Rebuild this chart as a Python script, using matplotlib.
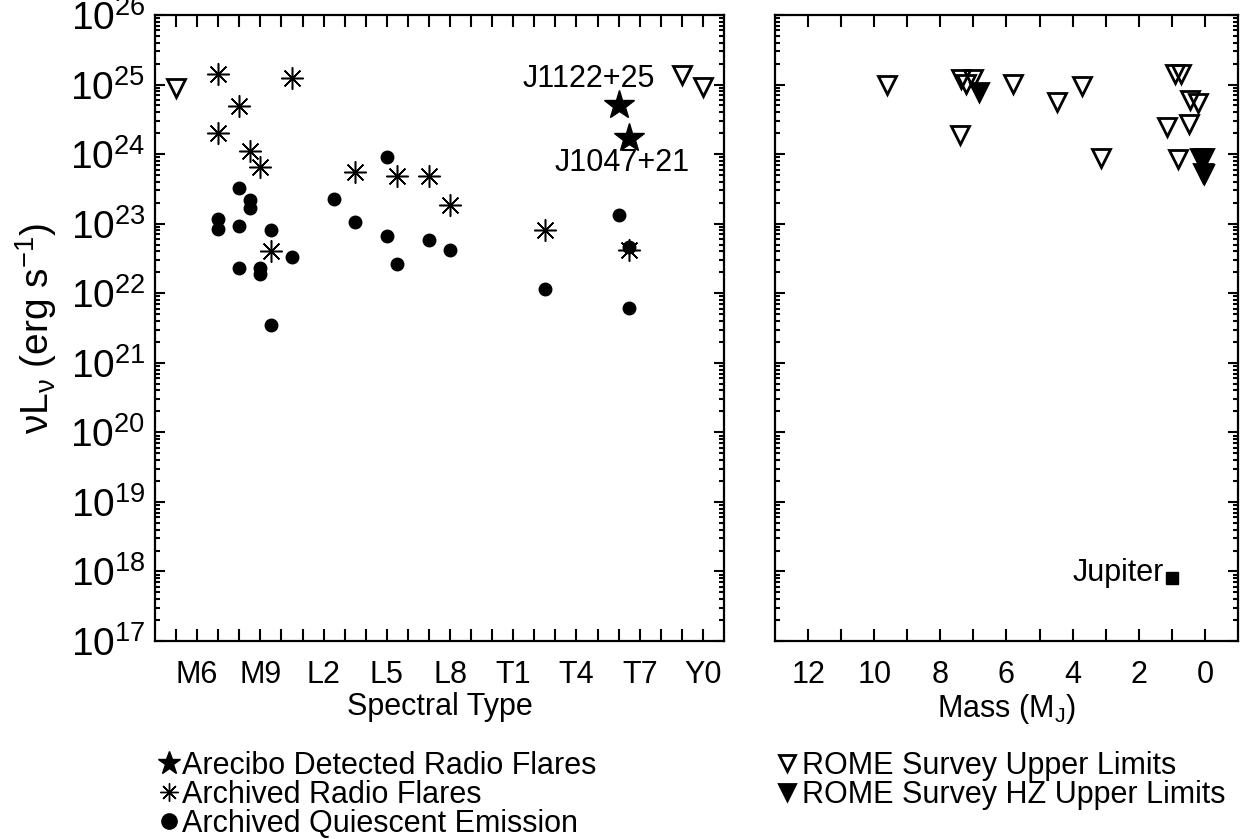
import matplotlib
matplotlib.use('Agg')
import matplotlib.pyplot as plt
from matplotlib.lines import Line2D
from matplotlib.ticker import LogLocator, NullFormatter, FixedLocator

plt.rcParams['font.family'] = ['Liberation Sans', 'DejaVu Sans']
plt.rcParams['mathtext.fontset'] = 'custom'
plt.rcParams['mathtext.rm'] = 'Liberation Sans'
plt.rcParams['mathtext.it'] = 'Liberation Sans'
plt.rcParams['mathtext.bf'] = 'Liberation Sans:bold'

# ---------------- data ----------------
# spectral type code: M0=0 ... L0=10, T0=20, Y0=30
spt_tick_pos = [6, 9, 12, 15, 18, 21, 24, 27, 30]
spt_tick_labels = ['M6', 'M9', 'L2', 'L5', 'L8', 'T1', 'T4', 'T7', 'Y0']

arecibo_spt = [26.0, 26.5]
arecibo_lum = [5.1e24, 1.7e24]
arecibo_names = ['J1122+25', 'J1047+21']

flare_spt = [7, 10.5, 8, 7, 8.5, 9, 9.5, 13.5, 15.5, 17, 18, 22.5, 26.5]
flare_lum = [1.41e25, 1.26e25, 4.9e24, 2.04e24, 1.12e24, 6.5e23, 4.0e22,
             5.6e23, 4.8e23, 4.9e23, 1.86e23, 8.1e22, 4.2e22]

quies_spt = [8, 8.5, 8.5, 7, 7, 8, 9.5, 10.5, 8, 9, 9, 9.5, 12.5, 13.5,
             15, 15, 15.5, 17, 18, 22.5, 26, 26.5, 26.5]
quies_lum = [3.3e23, 2.2e23, 1.7e23, 1.17e23, 8.5e22, 9.3e22, 8.1e22,
             3.3e22, 2.3e22, 2.3e22, 1.86e22, 3.5e21, 2.24e23, 1.05e23,
             9.1e23, 6.6e22, 2.6e22, 5.9e22, 4.2e22, 1.15e22, 1.35e23,
             4.6e22, 6.2e21]

rome_spt = [5, 29, 30]
rome_spt_lum = [8.9e24, 1.38e25, 9.3e24]

mass_ticks = [12, 10, 8, 6, 4, 2, 0]
rome_mass = [9.61, 7.37, 7.02, 7.22, 5.81, 4.48, 3.72, 7.42, 3.13, 0.91,
             0.71, 0.46, 0.20, 1.14, 0.48, 0.81, 0.03]
rome_mass_lum = [9.8e24, 1.2e25, 1.2e25, 1.02e25, 1.02e25, 5.6e24, 9.5e24,
                 1.9e24, 8.9e23, 1.41e25, 1.41e25, 6.0e24, 5.4e24, 2.45e24,
                 2.75e24, 8.5e23, 5.2e23]
rome_hz_mass = [6.82, 0.15, 0.03, 0.06]
rome_hz_lum = [7.8e24, 8.7e23, 8.7e23, 5.4e23]

jupiter_mass = [1.0]
jupiter_lum = [8.1e17]

legend_left = ['Arecibo Detected Radio Flares', 'Archived Radio Flares',
               'Archived Quiescent Emission']
legend_right = ['ROME Survey Upper Limits', 'ROME Survey HZ Upper Limits']

# ---------------- figure ----------------
W, H = 1247, 839
fig = plt.figure(figsize=(W / 100, H / 100), dpi=100)
ax1 = fig.add_axes([155 / W, 1 - 641 / H, (724 - 155) / W, (641 - 15) / H])
ax2 = fig.add_axes([775 / W, 1 - 641 / H, (1238 - 775) / W, (641 - 15) / H])

FS = 22
YFS = 28
ASTER = (8, 2, 0)

# left panel
ax1.plot(flare_spt, flare_lum, ls='none', marker=ASTER, ms=16, mew=1.1,
         color='k')
ax1.plot(quies_spt, quies_lum, ls='none', marker='o', ms=9, color='k',
         mec='k')
ax1.plot(rome_spt, rome_spt_lum, ls='none', marker='v', ms=13, mew=2,
         mfc='none', mec='k')
ax1.plot(arecibo_spt, arecibo_lum, ls='none', marker='*', ms=22, color='k')
ax1.annotate(arecibo_names[0], xy=(arecibo_spt[0], arecibo_lum[0]),
             xytext=(36, 26), textcoords='offset pixels', ha='right',
             va='center', fontsize=FS)
ax1.annotate(arecibo_names[1], xy=(arecibo_spt[1], arecibo_lum[1]),
             xytext=(-7, -25), textcoords='offset pixels', ha='center',
             va='center', fontsize=FS)

ax1.set_xlim(4, 31)
ax1.xaxis.set_major_locator(FixedLocator(list(range(5, 31))))
ax1.set_xticklabels([spt_tick_labels[spt_tick_pos.index(v)]
                     if v in spt_tick_pos else '' for v in range(5, 31)])
ax1.set_xlabel('Spectral Type', fontsize=FS)

# right panel
ax2.plot(rome_mass, rome_mass_lum, ls='none', marker='v', ms=13, mew=2,
         mfc='none', mec='k')
ax2.plot(rome_hz_mass, rome_hz_lum, ls='none', marker='v', ms=13, mew=2,
         color='k')
ax2.plot(jupiter_mass, jupiter_lum, ls='none', marker='s', ms=8, color='k')
ax2.annotate('Jupiter', xy=(jupiter_mass[0], jupiter_lum[0]),
             xytext=(-8, 5), textcoords='offset pixels', ha='right',
             va='center', fontsize=FS)
ax2.set_xlim(13, -1)
ax2.xaxis.set_major_locator(FixedLocator(list(range(0, 13))))
ax2.set_xticklabels([str(v) if v in mass_ticks else '' for v in range(0, 13)])
ax2.set_xlabel('Mass (M$_\\mathregular{J}$)', fontsize=FS)

for ax in (ax1, ax2):
    ax.set_yscale('log')
    ax.set_ylim(1e17, 1e26)
    ax.set_yticks([10.0 ** k for k in range(17, 27)])
    ax.yaxis.set_minor_locator(LogLocator(base=10, subs=range(2, 10),
                                          numticks=30))
    ax.yaxis.set_minor_formatter(NullFormatter())
    ax.tick_params(which='both', direction='in', top=True, right=True,
                   width=1.5)
    ax.tick_params(axis='x', which='major', length=8.5, pad=14,
                   labelsize=FS)
    ax.tick_params(axis='y', which='major', length=7.5, pad=7,
                   labelsize=YFS)
    ax.tick_params(axis='y', which='minor', length=3.8)
    for sp in ax.spines.values():
        sp.set_linewidth(1.6)
    ax.xaxis.set_label_coords(0.5, -0.082)

ax2.tick_params(axis='y', labelleft=False)
ax1.set_ylabel('$\\mathregular{\\nu L_\\nu}$ (erg s$^\\mathregular{-1}$)',
               fontsize=28)
ax1.yaxis.set_label_coords(-0.168, 0.5)

# legends
h_left = [Line2D([], [], ls='none', marker='*', ms=17, color='k'),
          Line2D([], [], ls='none', marker=ASTER, ms=13, mew=1.0, color='k'),
          Line2D([], [], ls='none', marker='o', ms=11, color='k')]
fig.legend(h_left, legend_left, loc='upper left',
           bbox_to_anchor=(158 / W, 1 - 751 / H), frameon=False,
           fontsize=FS, handlelength=0.7, handletextpad=0.1,
           labelspacing=-0.04, borderpad=0, borderaxespad=0)
h_right = [Line2D([], [], ls='none', marker='v', ms=11, mew=2, mfc='none',
                  mec='k'),
           Line2D([], [], ls='none', marker='v', ms=11, mew=2, color='k')]
fig.legend(h_right, legend_right, loc='upper left',
           bbox_to_anchor=(776 / W, 1 - 751 / H), frameon=False,
           fontsize=FS, handlelength=0.7, handletextpad=0.15,
           labelspacing=-0.04, borderpad=0, borderaxespad=0)

fig.savefig('out.png', dpi=100)
